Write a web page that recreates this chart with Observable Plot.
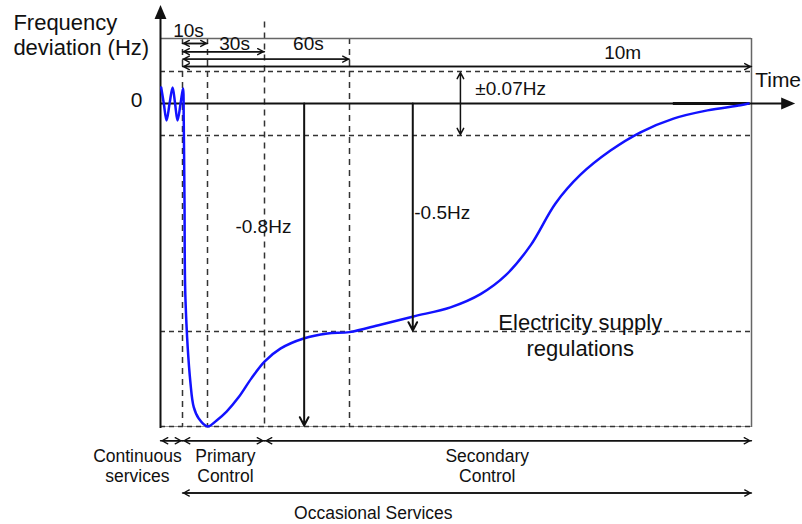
<!DOCTYPE html>
<html><head><meta charset="utf-8">
<script src="https://cdn.jsdelivr.net/npm/d3@7"></script>
<script src="https://cdn.jsdelivr.net/npm/@observablehq/plot@0.6"></script>
<style>
html,body{margin:0;padding:0;background:#fff;}
#chart svg{display:block;}
</style></head><body><div id="chart"></div>
<script>
// Frequency response curve: time (s) and frequency deviation (Hz)
const curveTime = [-7.75,-6.8,-5.8,-4.7,-3.6,-2.7,-1.8,-0.7,0.2,0.5,0.8,1.2,3.2,4.5,6.5,10,13.2,16.7,20.9,25.4,30,35.6,43.8,52.2,60,101.6,146,195.7,236,269.6,303.2,336.7,370.3,410.6,450.9,495.2,540.9,585.2,596];
const curveDev  = [0.035,0,-0.037,0,0.035,0,-0.037,0,0.033,-0.037,-0.213,-0.432,-0.664,-0.739,-0.775,-0.8,-0.781,-0.753,-0.708,-0.648,-0.595,-0.554,-0.522,-0.506,-0.502,-0.485,-0.467,-0.447,-0.418,-0.377,-0.311,-0.219,-0.156,-0.103,-0.063,-0.033,-0.015,-0.004,0];

// Schematic (non-linear) axis stops
const timeStops = [-8, 0, 10, 30, 60, 600, 660];
const devStops  = [-1.2, -0.8, -0.5, -0.07, 0, 0.07, 0.15, 0.25];
const yTicks = [0];

// Reference levels and time marks
const bandLevels = [0.07, -0.07, -0.5, -0.8];
const markTimes  = [0, 10, 30, 60];
const markTops   = [0.15, 0.15, 0.2, 0.15];

// Time spans at top
const spanLabels = ["10s", "30s", "60s", "10m"];
const spanEnds   = [10, 30, 60, 600];
const spanLevels = [0.138, 0.118, 0.1, 0.082];

// Deviation arrows
const devLabels = ["-0.8Hz", "-0.5Hz"];
const devTimes  = [44, 145];
const devValues = [-0.8, -0.5];

// Service bands at bottom
const serviceLabels = ["Continuous\nservices", "Primary\nControl", "Secondary\nControl"];
const serviceStart  = [-8, 0, 30];
const serviceEnd    = [0, 30, 600];
const occasionalLabel = "Occasional Services";
const toleranceLabel = "±0.07Hz";
const regulationLabel = "Electricity supply\nregulations";

const curveRows = curveTime.map((t, i) => ({t, v: curveDev[i]}));
const spanRows = spanLabels.map((label, i) => ({label, t1: 0, t2: spanEnds[i], v: spanLevels[i]}));
const devRows = devLabels.map((label, i) => ({label, t: devTimes[i], v: devValues[i]}));
const serviceRows = serviceLabels.map((label, i) => ({label, t1: serviceStart[i], t2: serviceEnd[i]}));

// custom filled arrowhead symbol (points up before rotation)
const arrowHead = {
  draw(ctx, size) {
    const r = Math.sqrt(size / Math.PI);
    ctx.moveTo(0, -r);
    ctx.lineTo(0.85 * r, r);
    ctx.lineTo(-0.85 * r, r);
    ctx.closePath();
  }
};

const headOpts = {headLength: 7, headAngle: 55, stroke: "#111"};

const chart = Plot.plot({
  width: 802,
  height: 524,
  marginLeft: 160, marginRight: 51, marginTop: 38, marginBottom: 98,
  style: {fontFamily: "'Liberation Sans', Arial, sans-serif", background: "#fff", color: "#111"},
  x: {type: "linear", domain: timeStops, range: [160, 182, 207, 264, 349, 751, 795], axis: null},
  y: {type: "linear", domain: devStops, range: [502, 426, 331, 135, 103, 71, 38, 5], axis: null},
  marks: [
    // faint solid under bottom dashed line
    Plot.ruleY([-0.8], {x1: -8, x2: 600, stroke: "#999", strokeWidth: 1}),
    // horizontal dashed reference lines
    Plot.ruleY(bandLevels, {x1: -8, x2: 600, stroke: "#333", strokeWidth: 1.5, strokeDasharray: "5,4"}),
    // vertical dashed time marks
    Plot.ruleX(markTimes, {x: d => d, y1: (d, i) => markTops[i], y2: -0.8, stroke: "#333", strokeWidth: 1.5, strokeDasharray: "6,5"}),
    // frame top and right
    Plot.ruleY([0.15], {x1: -8, x2: 600, stroke: "#666", strokeWidth: 1.5}),
    Plot.ruleX([600], {y1: -0.805, y2: 0.15, stroke: "#666", strokeWidth: 1.5}),
    // time axis (zero line)
    Plot.ruleY([0], {x1: -8, x2: 648, stroke: "#111", strokeWidth: 2}),
    Plot.ruleY([0], {x1: 495, x2: 598, stroke: "#111", strokeWidth: 3}),
    // frequency axis
    Plot.ruleX([-8], {y1: -0.81, y2: 0.23, stroke: "#111", strokeWidth: 2}),
    Plot.dot([{t: -8, v: 0.23, rot: 0}, {t: 650, v: 0, rot: 90}], {x: "t", y: "v", rotate: "rot", symbol: arrowHead, r: 7, fill: "#111", stroke: "none"}),
    Plot.axisY({ticks: yTicks, anchor: "left", tickSize: 0, tickPadding: 18, fontSize: 21, label: null, dy: -3, tickFormat: d => `${d}`}),
    // response curve
    Plot.line(curveRows, {x: "t", y: "v", stroke: "#1212ff", strokeWidth: 2.5, curve: "catmull-rom"}),
    // top time spans
    Plot.arrow(spanRows, {x1: "t1", x2: "t2", y1: "v", y2: "v", strokeWidth: 1.4, insetEnd: 1, ...headOpts}),
    Plot.arrow(spanRows, {x1: "t2", x2: "t1", y1: "v", y2: "v", strokeWidth: 1.4, insetEnd: 1, ...headOpts}),
    Plot.text(spanLabels, {x: (d, i) => [2.4, 19.5, 45.5, 427][i], y: (d, i) => [0.174, 0.138, 0.138, 0.116][i], text: d => d, fontSize: 19, fill: "#111"}),
    // tolerance band arrow
    Plot.arrow([{t: 209}], {x1: "t", x2: "t", y1: 0, y2: 0.07, strokeWidth: 1.5, insetEnd: 1, ...headOpts}),
    Plot.arrow([{t: 209}], {x1: "t", x2: "t", y1: 0, y2: -0.07, strokeWidth: 1.5, insetEnd: 1, ...headOpts}),
    Plot.text([toleranceLabel], {x: 229, y: 0.033, text: d => d, textAnchor: "start", fontSize: 19, fill: "#111"}),
    // deviation arrows
    Plot.arrow(devRows, {x1: "t", x2: "t", y1: 0, y2: "v", strokeWidth: 2, insetEnd: 1, ...headOpts}),
    Plot.text([devRows[0]], {x: 39.5, y: -0.27, text: "label", textAnchor: "end", fontSize: 19, fill: "#111"}),
    Plot.text([devRows[1]], {x: 147, y: -0.24, text: "label", textAnchor: "start", fontSize: 19, fill: "#111"}),
    Plot.text([regulationLabel], {x: 370, y: -0.51, text: d => d, fontSize: 22, lineHeight: 1.18, fill: "#111"}),
    Plot.text(["Time"], {x: 605, y: 0.05, text: d => d, textAnchor: "start", fontSize: 21, fill: "#111"}),
    Plot.text(["Frequency\ndeviation (Hz)"], {x: -61.5, y: 0.161, text: d => d, textAnchor: "start", fontSize: 22, lineHeight: 1.14, fill: "#111"}),
    // bottom service bands
    Plot.arrow(serviceRows, {x1: "t1", x2: "t2", y1: -0.875, y2: -0.875, strokeWidth: 1.4, insetEnd: 1.5, ...headOpts}),
    Plot.arrow(serviceRows, {x1: "t2", x2: "t1", y1: -0.875, y2: -0.875, strokeWidth: 1.4, insetEnd: 1.5, ...headOpts}),
    Plot.text(serviceRows, {x: (d, i) => [-16.4, 16.3, 245][i], y: -1.005, text: "label", fontSize: 17.5, lineHeight: 1.12, fill: "#111"}),
    Plot.arrow([{t1: 0, t2: 600}], {x1: "t1", x2: "t2", y1: -1.15, y2: -1.15, strokeWidth: 1.4, insetEnd: 1, ...headOpts}),
    Plot.arrow([{t1: 0, t2: 600}], {x1: "t2", x2: "t1", y1: -1.15, y2: -1.15, strokeWidth: 1.4, insetEnd: 1, ...headOpts}),
    Plot.text([occasionalLabel], {x: 92, y: -1.258, text: d => d, fontSize: 17.5, fill: "#111"})
  ]
});
document.getElementById("chart").append(chart);
</script></body></html>
